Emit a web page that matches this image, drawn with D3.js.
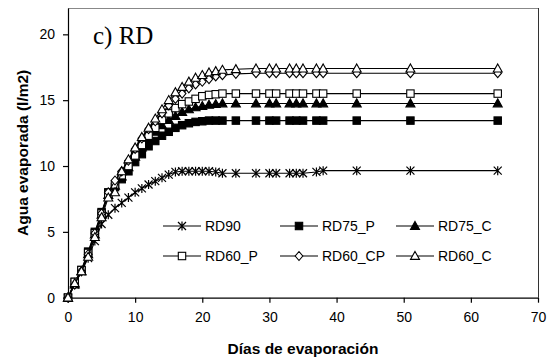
<!DOCTYPE html>
<html><head><meta charset="utf-8">
<script src="https://cdn.jsdelivr.net/npm/d3@7"></script>
<style>body{margin:0;background:#fff}svg{display:block}</style>
</head><body>
<svg id="c" width="553" height="361"></svg>
<script>
const days = [0,1,2,3,4,5,6,7,8,9,10,11,12,13,14,15,16,17,18,19,20,21,22,23,25,28,30,31,33,34,35,37,38,43,51,64];
const seriesNames = ["RD90","RD75_P","RD75_C","RD60_P","RD60_CP","RD60_C"];
const RD90    = [0,1.0,2.0,3.0,4.3,5.6,6.3,6.8,7.2,7.6,8.0,8.3,8.6,8.85,9.1,9.35,9.55,9.6,9.6,9.6,9.6,9.6,9.55,9.45,9.45,9.45,9.45,9.45,9.45,9.45,9.45,9.55,9.65,9.65,9.65,9.65];
const RD75_P  = [0,1.2,2.1,3.5,5.0,6.5,8.0,8.4,9.0,9.6,10.3,10.9,11.5,11.9,12.3,12.6,12.9,13.1,13.25,13.35,13.4,13.45,13.45,13.45,13.45,13.45,13.45,13.45,13.45,13.45,13.45,13.45,13.45,13.45,13.45,13.45];
const RD75_C  = [0,1.0,2.0,3.3,4.8,6.3,7.8,8.5,9.2,9.9,10.7,11.4,12.0,12.6,13.1,13.5,13.8,14.1,14.3,14.45,14.55,14.65,14.7,14.75,14.75,14.75,14.75,14.75,14.75,14.75,14.75,14.75,14.75,14.75,14.75,14.75];
const RD60_P  = [0,1.2,2.1,3.4,4.9,6.4,7.9,8.6,9.3,10.0,10.8,11.6,12.3,12.9,13.5,14.0,14.4,14.7,14.9,15.1,15.3,15.4,15.45,15.5,15.5,15.5,15.5,15.5,15.5,15.5,15.5,15.5,15.5,15.5,15.5,15.5];
const RD60_CP = [0,1.0,2.0,3.3,4.9,6.4,8.0,8.9,9.6,10.4,11.3,12.1,12.8,13.4,14.0,14.6,15.1,15.5,15.9,16.2,16.4,16.6,16.8,16.9,17.0,17.05,17.05,17.05,17.05,17.05,17.05,17.05,17.05,17.05,17.05,17.05];
const RD60_C  = [0,1.1,2.0,3.1,4.6,6.1,7.6,8.0,9.6,10.5,11.4,12.2,12.9,13.6,14.3,15.0,15.6,16.0,16.4,16.7,16.9,17.1,17.2,17.3,17.35,17.4,17.4,17.4,17.4,17.4,17.4,17.4,17.4,17.4,17.4,17.4];
const seriesValues = [RD90, RD75_P, RD75_C, RD60_P, RD60_CP, RD60_C];
const markerTypes = ["asterisk","squareFill","triFill","squareOpen","diamondOpen","triOpen"];
const xTicks = [0,10,20,30,40,50,60,70];
const yTicks = [0,5,10,15,20];
const xTitle = "Días de evaporación";
const yTitle = "Agua evaporada (l/m2)";
const panelLabel = "c) RD";

const svg = d3.select("#c");
const L=68, R=538, T=8, B=297.7;
const x = d3.scaleLinear().domain([0,70]).range([L,R]);
const y = d3.scaleLinear().domain([0,22]).range([B,T]);

// frame
svg.append("line").attr("x1",L).attr("x2",R).attr("y1",T+0.5).attr("y2",T+0.5).attr("stroke","#888").attr("stroke-width",1);
svg.append("line").attr("x1",R+0.5).attr("x2",R+0.5).attr("y1",T).attr("y2",B).attr("stroke","#333").attr("stroke-width",1);

const font = "'Liberation Sans', Arial, sans-serif";
const gx = svg.append("g").attr("transform",`translate(0,${B})`)
  .call(d3.axisBottom(x).tickValues(xTicks).tickSize(5).tickPadding(9).tickSizeOuter(0));
const gy = svg.append("g").attr("transform",`translate(${L},0)`)
  .call(d3.axisLeft(y).tickValues(yTicks).tickSize(5).tickPadding(8).tickSizeOuter(0));
[gx,gy].forEach(g=>{
  g.selectAll("path,line").attr("stroke","#000").attr("stroke-width",1.2);
  g.selectAll("text").attr("font-family",font).attr("font-size",14).attr("fill","#000");
});

function marker(g,type,cx,cy){
  const s=4;
  if(type==="asterisk"){
    const p=`M${cx-s},${cy-s}L${cx+s},${cy+s}M${cx-s},${cy+s}L${cx+s},${cy-s}M${cx},${cy-s-0.5}L${cx},${cy+s+0.5}`;
    g.append("path").attr("d",p).attr("stroke","#000").attr("stroke-width",1.2).attr("fill","none");
  } else if(type.startsWith("square")){
    g.append("rect").attr("x",cx-3.7).attr("y",cy-3.7).attr("width",7.4).attr("height",7.4)
     .attr("fill",type==="squareFill"?"#000":"#fff").attr("stroke","#000").attr("stroke-width",1.1);
  } else if(type.startsWith("tri")){
    const p=`M${cx},${cy-4.6}L${cx+4.5},${cy+3.4}L${cx-4.5},${cy+3.4}Z`;
    g.append("path").attr("d",p).attr("fill",type==="triFill"?"#000":"#fff").attr("stroke","#000").attr("stroke-width",1.1);
  } else if(type==="diamondOpen"){
    const p=`M${cx},${cy-4.5}L${cx+3.8},${cy}L${cx},${cy+4.5}L${cx-3.8},${cy}Z`;
    g.append("path").attr("d",p).attr("fill","#fff").attr("stroke","#000").attr("stroke-width",1.1);
  }
}

const line = d3.line().x((d,i)=>x(days[i])).y(d=>y(d));
seriesValues.forEach((vals,si)=>{
  const g = svg.append("g");
  g.append("path").attr("d",line(vals)).attr("fill","none").attr("stroke","#000").attr("stroke-width",1.1);
  vals.forEach((v,i)=>marker(g,markerTypes[si],x(days[i]),y(v)));
});

// legend
const legCols=[163,280,396], legRows=[226,256];
seriesNames.forEach((n,i)=>{
  const cx=legCols[i%3], cy=legRows[Math.floor(i/3)];
  const g=svg.append("g");
  g.append("line").attr("x1",cx).attr("x2",cx+38).attr("y1",cy).attr("y2",cy).attr("stroke","#000").attr("stroke-width",1.1);
  marker(g,markerTypes[i],cx+19,cy);
  g.append("text").attr("x",cx+42).attr("y",cy+5).attr("font-family",font).attr("font-size",14).text(n);
});

svg.append("text").attr("x",93).attr("y",44).attr("font-family","'Liberation Serif','Times New Roman',serif")
  .attr("font-size",25).text(panelLabel);
svg.append("text").attr("x",(L+R)/2).attr("y",354).attr("text-anchor","middle").attr("font-family",font)
  .attr("font-weight","bold").attr("font-size",15.5).text(xTitle);
svg.append("text").attr("transform",`translate(28,${(T+B)/2}) rotate(-90)`).attr("text-anchor","middle")
  .attr("font-family",font).attr("font-weight","bold").attr("font-size",15.5).text(yTitle);
</script>
</body></html>
